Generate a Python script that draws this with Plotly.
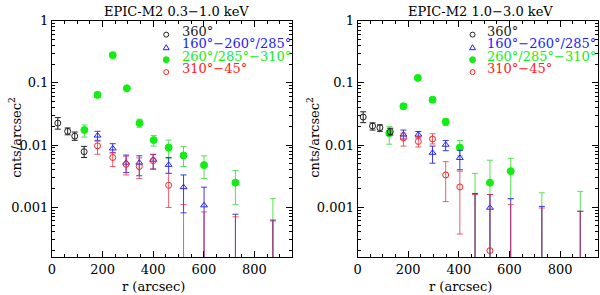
import plotly.graph_objects as go

# ---------------- data ----------------
# Values below the plotted range (not visible, only their upper error bar shows) use BELOW.
BELOW = 1e-5

# Left panel: EPIC-M2 0.3-1.0 keV
L_all_r = [23, 62, 90, 127]
L_all_v = [0.0225, 0.0166, 0.0139, 0.0078]
L_all_hi = [0.0276, 0.0188, 0.0162, 0.0095]
L_all_lo = [0.018, 0.0146, 0.0119, 0.0063]

L_blue_r = [180, 240, 293, 345, 400, 461, 520, 601, 725, 873]
L_blue_v = [0.0142, 0.0088, 0.0052, 0.0052, 0.0058, 0.0048, 0.0021, 0.00107, BELOW, BELOW]
L_blue_hi = [0.0166, 0.0105, 0.0069, 0.0067, 0.0071, 0.0063, 0.0033, 0.0021, 0.00077, 0.00062]
L_blue_lo = [0.0119, 0.0075, 0.0036, 0.0032, 0.0041, 0.0035, 0.00081, BELOW, BELOW, BELOW]

L_green_r = [128, 180, 240, 296, 346, 402, 461, 520, 601, 725, 873]
L_green_v = [0.0175, 0.064, 0.279, 0.0817, 0.0225, 0.012, 0.0091, 0.0068, 0.00475, 0.00248, BELOW]
L_green_hi = [0.021, 0.0705, 0.29, 0.086, 0.026, 0.0142, 0.012, 0.0095, 0.0067, 0.0039, 0.00137]
L_green_lo = [0.0134, 0.058, 0.27, 0.078, 0.0193, 0.0096, 0.0061, 0.0045, 0.0029, 0.0011, BELOW]

L_red_r = [180, 240, 293, 345, 400, 461, 520, 601, 725, 873]
L_red_v = [0.0097, 0.0063, 0.0049, 0.0045, 0.0056, 0.00225, BELOW, BELOW, BELOW, BELOW]
L_red_hi = [0.0115, 0.0075, 0.0066, 0.0062, 0.007, 0.0035, 0.0011, 0.00084, 0.0007, 0.0006]
L_red_lo = [0.0071, 0.0045, 0.0033, 0.0029, 0.0041, 0.00099, BELOW, BELOW, BELOW, BELOW]

# Right panel: EPIC-M2 1.0-3.0 keV
R_all_r = [22, 59, 88, 129]
R_all_v = [0.0282, 0.0202, 0.019, 0.0164]
R_all_hi = [0.0342, 0.0227, 0.0211, 0.0186]
R_all_lo = [0.0229, 0.0174, 0.0166, 0.0145]

R_blue_r = [181, 240, 296, 348, 404, 464, 523, 605, 728, 880]
R_blue_v = [0.0147, 0.0147, 0.0075, 0.0101, 0.0062, BELOW, 0.00098, BELOW, BELOW, BELOW]
R_blue_hi = [0.0174, 0.0165, 0.0096, 0.0118, 0.0082, 0.00166, 0.0016, 0.00137, 0.00103, 0.00086]
R_blue_lo = [0.0125, 0.013, 0.0051, 0.0081, 0.004, BELOW, BELOW, BELOW, BELOW, BELOW]

R_green_r = [125, 181, 238, 296, 348, 404, 464, 523, 605, 728, 880]
R_green_v = [0.0155, 0.042, 0.12, 0.0535, 0.0236, 0.0091, BELOW, 0.00248, 0.0038, BELOW, BELOW]
R_green_hi = [0.0197, 0.046, 0.126, 0.057, 0.0265, 0.0118, 0.0035, 0.0057, 0.0061, 0.0017, 0.0018]
R_green_lo = [0.0103, 0.038, 0.114, 0.05, 0.0205, 0.0067, BELOW, BELOW, 0.00137, BELOW, BELOW]

R_red_r = [181, 240, 296, 348, 404, 464, 523, 605, 728, 880]
R_red_v = [0.013, 0.0114, 0.0125, 0.0033, 0.00212, BELOW, 0.0002, BELOW, BELOW, BELOW]
R_red_hi = [0.0155, 0.0137, 0.0152, 0.0054, 0.0038, 0.0016, 0.0016, 0.0011, 0.00097, 0.00086]
R_red_lo = [0.0096, 0.0093, 0.0104, 0.00123, 0.00037, BELOW, BELOW, BELOW, BELOW, BELOW]

TITLES = ["EPIC-M2 0.3\u22121.0 keV", "EPIC-M2 1.0\u22123.0 keV"]
LEGEND_LABELS = ["360\u00b0", "160\u00b0\u2212260\u00b0/285\u00b0",
                 "260\u00b0/285\u00b0\u2212310\u00b0", "310\u00b0\u221245\u00b0"]
Y_TICKS = [0.001, 0.01, 0.1, 1]
Y_TICK_TEXT = ["0.001", "0.01", "0.1", "1"]
X_TICKS = [0, 200, 400, 600, 800]

# ---------------- styling ----------------
BLACK = "#222222"
BLUE = "#2020ff"
GREEN = "#11ee11"
RED = "#ff2020"
FONT = "DejaVu Serif"
W, H = 600, 295

fig = go.Figure()


def add_series(r, v, hi, lo, color, symbol, xa, ya, ecolor=None, size=6):
    fig.add_trace(go.Scatter(
        x=r, y=v, mode="markers", xaxis=xa, yaxis=ya, showlegend=False,
        marker=dict(symbol=symbol, size=size, color=color,
                    line=dict(color=color, width=1)),
        error_y=dict(type="data", symmetric=False,
                     array=[h - c for h, c in zip(hi, v)],
                     arrayminus=[c - l for c, l in zip(v, lo)],
                     color=ecolor or color, thickness=1, width=3),
    ))


panels = [
    ("x", "y", (L_all_r, L_all_v, L_all_hi, L_all_lo),
     (L_blue_r, L_blue_v, L_blue_hi, L_blue_lo),
     (L_green_r, L_green_v, L_green_hi, L_green_lo),
     (L_red_r, L_red_v, L_red_hi, L_red_lo)),
    ("x2", "y2", (R_all_r, R_all_v, R_all_hi, R_all_lo),
     (R_blue_r, R_blue_v, R_blue_hi, R_blue_lo),
     (R_green_r, R_green_v, R_green_hi, R_green_lo),
     (R_red_r, R_red_v, R_red_hi, R_red_lo)),
]
for xa, ya, blk, blu, grn, red in panels:
    add_series(*grn, GREEN, "circle", xa, ya, ecolor="#55e055", size=7)
    add_series(*blu, BLUE, "triangle-up-open", xa, ya, ecolor="#3a3ae0")
    add_series(*red, RED, "circle-open", xa, ya, ecolor="rgba(230,40,60,0.75)")
    add_series(*blk, BLACK, "circle-open", xa, ya)

# panel pixel geometry
px_left = [(48.3, 290.3), (356.0, 598.0)]
py_top, py_bot = 14.0, 256.0
ydom = [1 - py_bot / H, 1 - py_top / H]

axis_common = dict(showline=True, linecolor="black", linewidth=1, mirror="allticks",
                   ticks="inside", ticklen=6, tickcolor="black", showgrid=False,
                   zeroline=False, tickfont=dict(family=FONT, size=13, color="black"))
minor_y = [m * 10 ** e for e in (-4, -3, -2, -1) for m in range(2, 10)]

layout = dict(width=W, height=H, margin=dict(l=0, r=0, t=0, b=0),
              paper_bgcolor="white", plot_bgcolor="white", showlegend=False)
for i, (xa, ya) in enumerate([("xaxis", "yaxis"), ("xaxis2", "yaxis2")]):
    x0, x1 = px_left[i]
    layout[xa] = dict(axis_common, domain=[x0 / W, x1 / W], range=[0, 950],
                      tickmode="array", tickvals=X_TICKS,
                      minor=dict(ticks="inside", ticklen=3, tickcolor="black",
                                 tickmode="linear", tick0=0, dtick=50),
                      anchor="y" if i == 0 else "y2")
    layout[ya] = dict(axis_common, type="log", domain=ydom, range=[-3.8, 0],
                      tickmode="array", tickvals=Y_TICKS, ticktext=Y_TICK_TEXT,
                      minor=dict(ticks="inside", ticklen=3, tickcolor="black",
                                 tickmode="array", tickvals=minor_y),
                      anchor="x" if i == 0 else "x2")
fig.update_layout(**layout)

annotations = []
shapes = []
title_cx = [174, 480]
ylab_cx = [11, 311]
leg_sym_x = [163.3, 471.7]
leg_txt_x = [176.7, 484.3]
row_txt_y = [25, 37.5, 50.5, 63.5]
row_sym_y = [28.3, 41.7, 54, 66.7]
leg_colors = [BLACK, BLUE, GREEN, RED]
for i in range(2):
    annotations.append(dict(text=TITLES[i], xref="paper", yref="paper",
                            x=title_cx[i] / W, y=1 - 5 / H, showarrow=False,
                            xanchor="center", yanchor="middle",
                            font=dict(family=FONT, size=13, color="black")))
    annotations.append(dict(text="r (arcsec)", xref="paper", yref="paper",
                            x=(px_left[i][0] + 0.2547 * 400 + (2 if i else 0)) / W,
                            y=1 - 286 / H, showarrow=False,
                            xanchor="center", yanchor="middle",
                            font=dict(family=FONT, size=13, color="black")))
    annotations.append(dict(text="cnts/arcsec<sup>2</sup>", xref="paper", yref="paper",
                            x=ylab_cx[i] / W, y=1 - 133 / H, showarrow=False,
                            textangle=-90, xanchor="center", yanchor="middle",
                            font=dict(family=FONT, size=13, color="black")))
    for k in range(4):
        annotations.append(dict(text=LEGEND_LABELS[k], xref="paper", yref="paper",
                                x=leg_txt_x[i] / W, y=1 - row_txt_y[k] / H,
                                showarrow=False, xanchor="left", yanchor="middle",
                                font=dict(family=FONT, size=13, color=leg_colors[k])))
        sx, sy = leg_sym_x[i] / W, 1 - row_sym_y[k] / H
        base = dict(xref="paper", yref="paper", xsizemode="pixel", ysizemode="pixel",
                    xanchor=sx, yanchor=sy)
        if k == 1:
            shapes.append(dict(base, type="path", path="M -3,-2 L 3,-2 L 0,3 Z",
                               line=dict(color=BLUE, width=1)))
        elif k == 2:
            shapes.append(dict(base, type="circle", x0=-3, x1=3, y0=-3, y1=3,
                               fillcolor=GREEN, line=dict(color=GREEN, width=1)))
        else:
            shapes.append(dict(base, type="circle", x0=-2.5, x1=2.5, y0=-2.5, y1=2.5,
                               line=dict(color=leg_colors[k], width=1)))

fig.update_layout(annotations=annotations, shapes=shapes)
fig.write_html("out.html", config={"displayModeBar": False},
               post_script="document.body.style.margin='0';"
                           "document.body.style.overflow='hidden';")
